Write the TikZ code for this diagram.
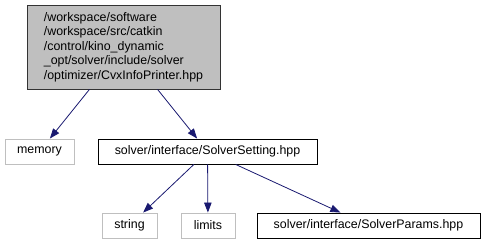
\documentclass[tikz,border=0pt]{standalone}
\usepackage{fontspec}
\setmainfont{Liberation Sans}
\usepackage{xcolor}
\usepackage{tikz}
\usetikzlibrary{arrows.meta}

\definecolor{edgeblue}{HTML}{191970}
\definecolor{boxgray}{HTML}{BFBFBF}

\begin{document}
\begin{tikzpicture}[x=1pt, y=-1pt,
  every node/.style={font=\fontsize{12.4}{14.5}\selectfont, inner sep=0pt},
  sysfile/.style={draw=boxgray, line width=0.9pt, minimum height=25pt},
  localfile/.style={draw=black, line width=0.9pt, minimum height=25pt},
  mainfile/.style={draw=black!80, fill=boxgray, line width=0.9pt, align=left,
    minimum width=193pt, minimum height=84pt},
  dep/.style={draw=edgeblue, line width=0.8pt, -{Triangle[length=10pt,width=7.5pt]}}]
\useasboundingbox (0,0) rectangle (486,245);

% file being documented
\node[mainfile] (printer) at (123.5,47) {/workspace/software\\/workspace/src/catkin\\/control/kino\_dynamic\\\_opt/solver/include/solver\\/optimizer/CvxInfoPrinter.hpp};

% first level includes
\node[sysfile, minimum width=69pt] (memory) at (39.5,151.5) {memory};
\node[localfile, minimum width=219pt] (setting) at (207.5,151.5) {solver/interface/SolverSetting.hpp};

% second level includes
\node[sysfile, minimum width=55pt] (string) at (129.5,225.5) {string};
\node[sysfile, minimum width=54pt] (limits) at (208,225.5) {limits};
\node[localfile, minimum width=223pt] (params) at (368.5,225.5) {solver/interface/SolverParams.hpp};

% include edges
\draw[dep] (printer) -- (memory);
\draw[dep] (printer) -- (setting);
\draw[dep] (setting) -- (string);
\draw[dep] (setting) -- (limits);
\draw[dep] (setting) -- (params);
\end{tikzpicture}
\end{document}
